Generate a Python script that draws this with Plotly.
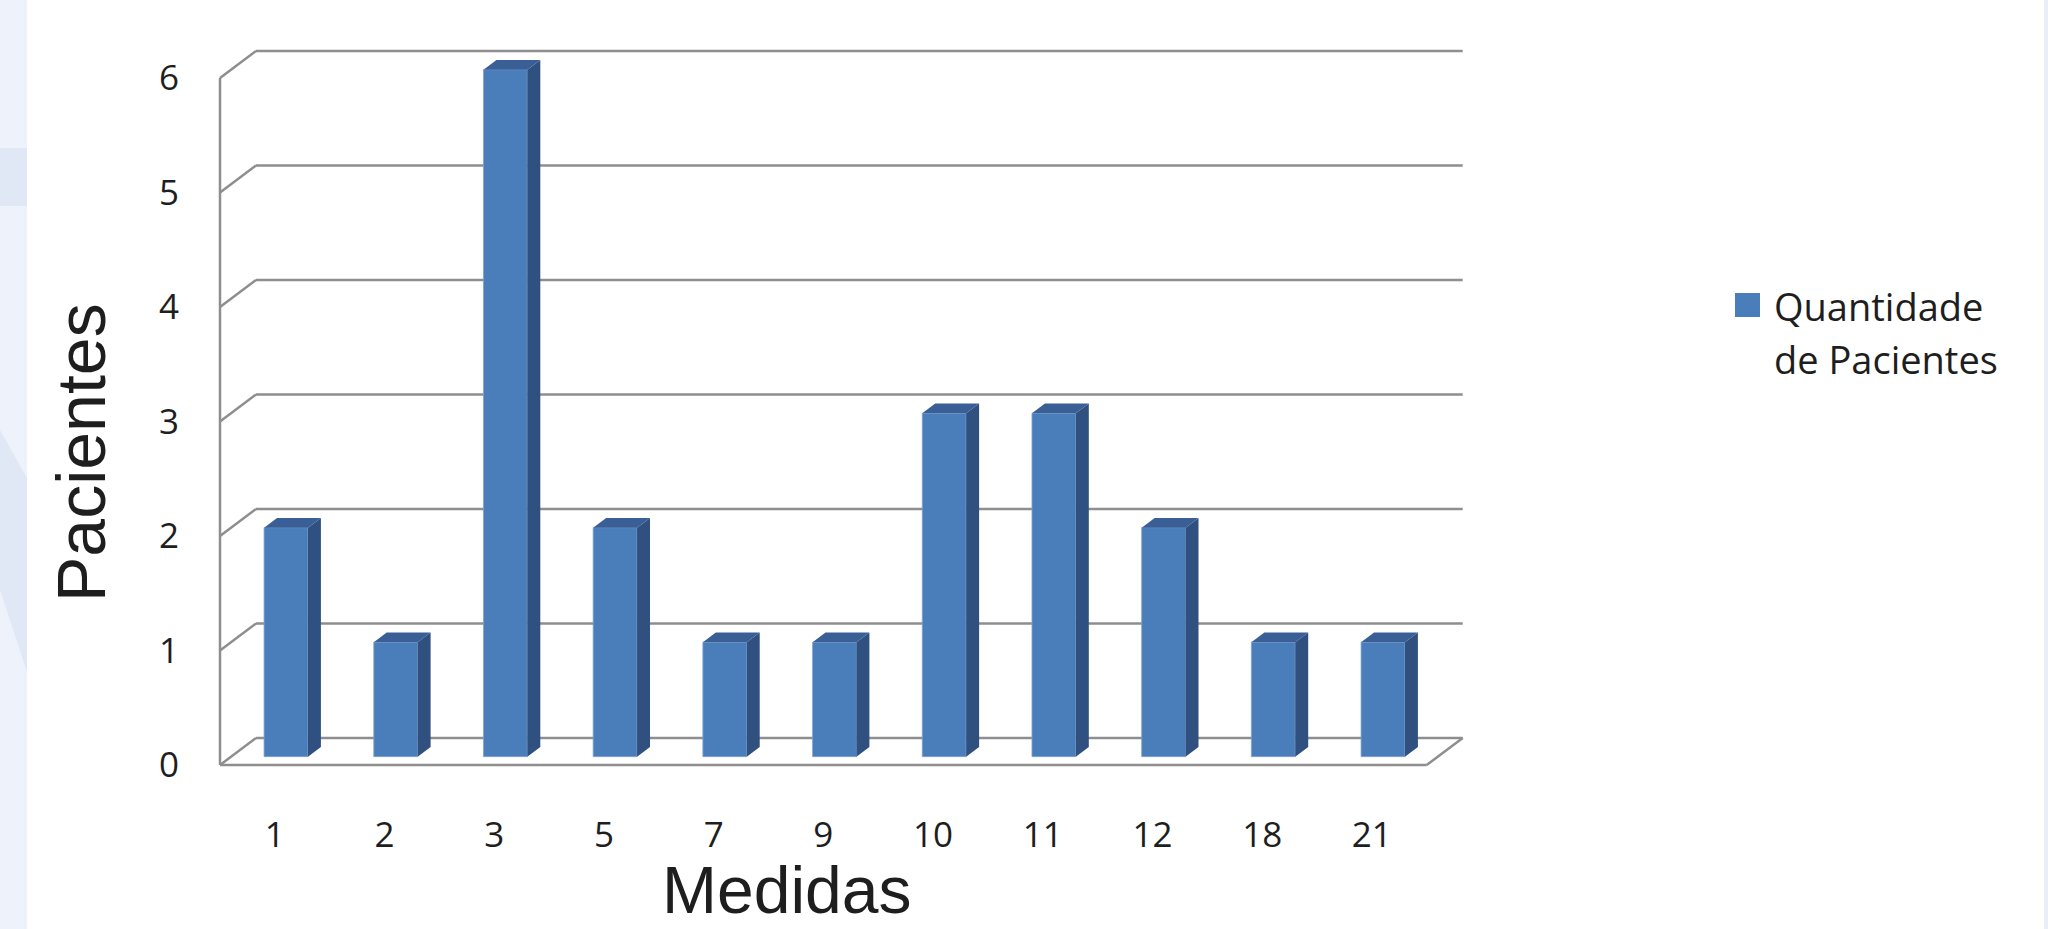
import plotly.graph_objects as go

# ---------------- data ----------------
categorias = ["1", "2", "3", "5", "7", "9", "10", "11", "12", "18", "21"]
pacientes = [2, 1, 6, 2, 1, 1, 3, 3, 2, 1, 1]
y_ticks = [0, 1, 2, 3, 4, 5, 6]
serie_nome = ["Quantidade", "de Pacientes"]
titulo_x = "Medidas"
titulo_y = "Pacientes"

# ---------------- geometry (pixels) ----------------
W, H = 2048, 929
ML, MR, MT, MB = 214, 580, 46, 158
X0_PX, UNIT_X = 220, 109.7    # px of front-left floor edge, px per category
Y0_PX, UNIT_Y = 765, 114.5    # px of front floor, px per value unit
pw, ph = W - ML - MR, H - MT - MB
x_range = [(ML - X0_PX) / UNIT_X - 0.5, (ML + pw - X0_PX) / UNIT_X - 0.5]
y_range = [(Y0_PX - (MT + ph)) / UNIT_Y, (Y0_PX - MT) / UNIT_Y]

DX, DY = 36 / UNIT_X, 27 / UNIT_Y   # depth of the 3D box in data units
F1, F2 = 0.31, 0.67                  # bar depth fractions (front, back)
BW = 0.40                            # bar width (category units)

FRONT = "#4A7EBB"
SIDE = "#30517F"
TOP = "#3A5F97"
GRID = "#8E8E8E"
TXT = "#1E1E1E"

n = len(categorias)
xs = list(range(n))
ymax = max(y_ticks)
xl_edge, xr_edge = -0.5, n - 0.5


def px2paper(px, py):
    return (px - ML) / pw, (MT + ph - py) / ph


fig = go.Figure()
shapes = []

# ---- background decoration (left strip) ----
def rect_px(x0, y0, x1, y1, color):
    a = px2paper(x0, y0)
    b = px2paper(x1, y1)
    return dict(type="rect", xref="paper", yref="paper", x0=a[0], y0=a[1],
                x1=b[0], y1=b[1], fillcolor=color, line=dict(width=0), layer="below")

shapes.append(rect_px(0, 0, 27, H, "#EEF2FA"))
shapes.append(rect_px(0, 148, 27, 206, "#E1E8F5"))
shapes.append(rect_px(2044, 0, W, H, "#E9EEF8"))
poly = [(0, 430), (27, 478), (27, 672), (0, 590)]
pp = [px2paper(x, y) for x, y in poly]
path = "M " + " L ".join(f"{p[0]},{p[1]}" for p in pp) + " Z"
shapes.append(dict(type="path", xref="paper", yref="paper", path=path,
                   fillcolor="#E1E8F5", line=dict(width=0), layer="below"))

# ---- 3D box: walls / gridlines (below the bars) ----
def seg(x0, y0, x1, y1):
    return dict(type="line", xref="x", yref="y", x0=x0, y0=y0, x1=x1, y1=y1,
                line=dict(color=GRID, width=2.5), layer="below")

for v in y_ticks:
    shapes.append(seg(xl_edge + DX, v + DY, xr_edge + DX, v + DY))   # back wall
    shapes.append(seg(xl_edge, v, xl_edge + DX, v + DY))             # side wall
shapes.append(seg(xl_edge, 0, xl_edge, ymax))                        # front axis
shapes.append(seg(xl_edge, 0, xr_edge, 0))                           # floor front
shapes.append(seg(xr_edge, 0, xr_edge + DX, DY))                     # floor right

# ---- bars: front faces ----
base = F1 * DY
xc = [i + F1 * DX for i in xs]
fig.add_trace(go.Bar(x=xc, y=pacientes, base=base, width=BW,
                     marker=dict(color=FRONT, line=dict(width=0.8, color="#7FA3D3")),
                     name=" ".join(serie_nome), showlegend=False))

# ---- bars: side and top faces ----
dd = F2 - F1
sx, sy, tx, ty = [], [], [], []
for c, v in zip(xc, pacientes):
    xl, xr = c - BW / 2, c + BW / 2
    top = base + v
    sx += [xr, xr + dd * DX, xr + dd * DX, xr, xr, None]
    sy += [base, base + dd * DY, top + dd * DY, top, base, None]
    tx += [xl, xl + dd * DX, xr + dd * DX, xr, xl, None]
    ty += [top, top + dd * DY, top + dd * DY, top, top, None]
fig.add_trace(go.Scatter(x=sx, y=sy, mode="lines", fill="toself",
                         fillcolor=SIDE, line=dict(width=0, color=SIDE),
                         hoverinfo="skip", showlegend=False))
fig.add_trace(go.Scatter(x=tx, y=ty, mode="lines", fill="toself",
                         fillcolor=TOP, line=dict(width=0, color=TOP),
                         hoverinfo="skip", showlegend=False))

# ---- legend (manual) ----
shapes.append(rect_px(1735, 293, 1760, 317, FRONT))

annotations = []
ax, ay = px2paper(81, 453)
annotations.append(dict(text=titulo_y, x=ax, y=ay, xref="paper", yref="paper",
                        textangle=-90, showarrow=False, xanchor="center", yanchor="middle",
                        font=dict(family="Liberation Sans, Arial", size=68, color=TXT)))
ax, ay = px2paper(786, 929)
annotations.append(dict(text=titulo_x, x=ax, y=ay, xref="paper", yref="paper",
                        showarrow=False, xanchor="center", yanchor="bottom",
                        font=dict(family="Liberation Sans, Arial", size=66, color=TXT)))
for k, (line, ypx) in enumerate(zip(serie_nome, [306, 359])):
    ax, ay = px2paper(1772, ypx)
    annotations.append(dict(text=line, x=ax, y=ay, xref="paper", yref="paper",
                            showarrow=False, xanchor="left", yanchor="middle",
                            font=dict(family="Open Sans", size=38, color=TXT)))

fig.update_layout(
    width=W, height=H,
    margin=dict(l=ML, r=MR, t=MT, b=MB, pad=0),
    paper_bgcolor="white", plot_bgcolor="rgba(0,0,0,0)",
    showlegend=False,
    shapes=shapes, annotations=annotations,
    xaxis=dict(range=x_range, tickmode="array", tickvals=xs, ticktext=categorias,
               showgrid=False, zeroline=False, showline=False, ticks="",
               ticklabelstandoff=40,
               tickfont=dict(family="Open Sans", size=35, color=TXT), fixedrange=True),
    yaxis=dict(range=y_range, tickmode="array", tickvals=y_ticks,
               ticktext=[str(v) for v in y_ticks],
               showgrid=False, zeroline=False, showline=False, ticks="",
               ticklabelstandoff=34,
               tickfont=dict(family="Open Sans", size=35, color=TXT), fixedrange=True),
)

fig.write_html("out.html")
